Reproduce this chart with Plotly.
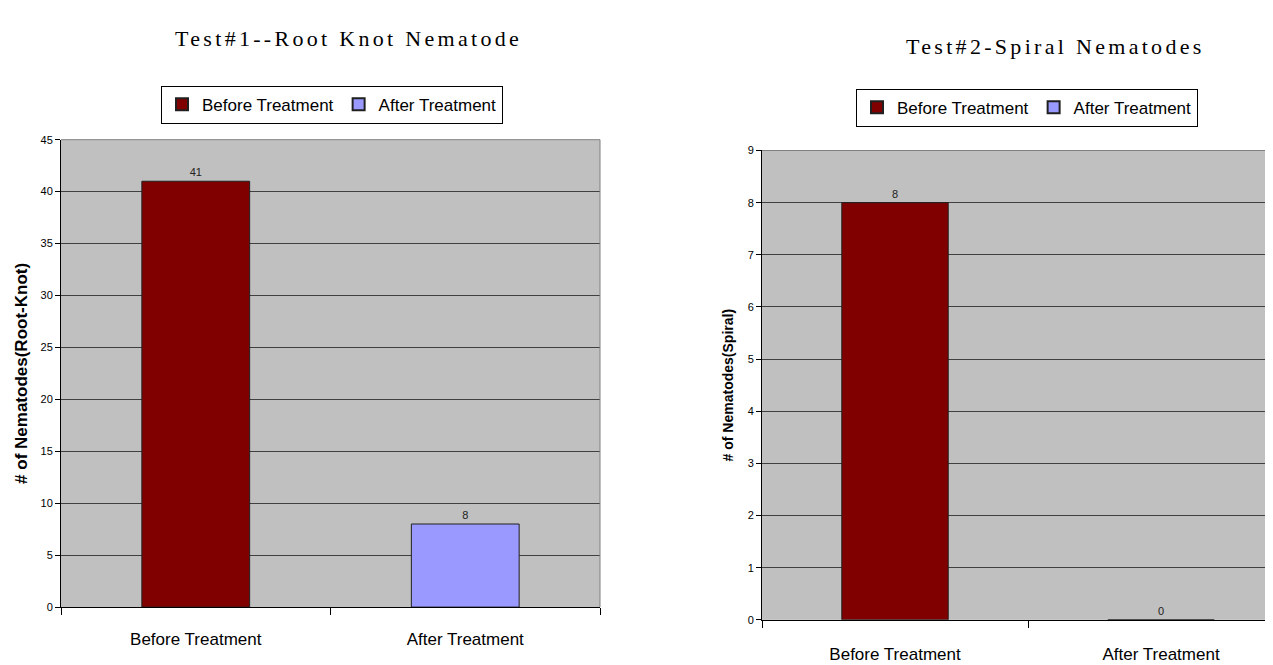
import plotly.graph_objects as go

# ---- data ----
categories = ["Before Treatment", "After Treatment"]
root_knot_before = [41]
root_knot_after = [8]
spiral_before = [8]
spiral_after = [0]
root_knot_ticks = [0, 5, 10, 15, 20, 25, 30, 35, 40, 45]
spiral_ticks = [0, 1, 2, 3, 4, 5, 6, 7, 8, 9]
titles = ["Test#1--Root Knot Nematode", "Test#2-Spiral Nematodes"]
y_titles = ["# of Nematodes(Root-Knot)", "# of Nematodes(Spiral)"]
series_names = ["Before Treatment", "After Treatment"]

W, H = 1273, 665
SANS = "Liberation Sans, Arial, sans-serif"
SERIF = "Liberation Serif, Times New Roman, serif"
C_BEFORE = "#800000"
C_AFTER = "#9999FF"

def px(x):
    return x / W

def py(y):
    return 1 - y / H

fig = go.Figure()

def bar(xcat, vals, name, color, xa, ya, leg):
    return go.Bar(x=xcat, y=vals, name=name, marker_color=color,
                  marker_line=dict(color="#202020", width=1),
                  width=0.4, texttemplate="%{y}", textposition="outside",
                  cliponaxis=False, textfont=dict(family=SANS, size=11, color="#222"),
                  xaxis=xa, yaxis=ya, legend=leg)

fig.add_trace(bar([categories[0]], root_knot_before, series_names[0], C_BEFORE, "x", "y", "legend"))
fig.add_trace(bar([categories[1]], root_knot_after, series_names[1], C_AFTER, "x", "y", "legend"))
fig.add_trace(bar([categories[0]], spiral_before, series_names[0], C_BEFORE, "x2", "y2", "legend2"))
fig.add_trace(bar([categories[1]], spiral_after, series_names[1], C_AFTER, "x2", "y2", "legend2"))

xcommon = dict(type="category", categoryorder="array", categoryarray=categories,
               tickson="boundaries", ticks="outside", ticklen=7, tickcolor="#000",
               showline=True, linecolor="#000", linewidth=1, showgrid=False,
               tickfont=dict(family=SANS, size=17, color="#000"),
               fixedrange=True)
ycommon = dict(ticks="outside", ticklen=5, tickcolor="#000", showline=True,
               linecolor="#000", linewidth=1, showgrid=True, gridcolor="#404040",
               gridwidth=1, zeroline=False,
               tickfont=dict(family=SANS, size=11, color="#000"), fixedrange=True)

legcommon = dict(orientation="h", xanchor="center", yanchor="top",
                 bgcolor="white", bordercolor="#000", borderwidth=1,
                 font=dict(family=SANS, size=17, color="#000"),
                 itemsizing="constant", traceorder="normal", itemwidth=30)

fig.update_layout(
    width=W, height=H,
    margin=dict(l=0, r=0, t=0, b=0),
    paper_bgcolor="white", plot_bgcolor="#C0C0C0",
    barmode="overlay",
    showlegend=True,
    xaxis=dict(domain=[px(53), px(592)], anchor="y", range=[-0.5, 1.5],
               ticklabelstandoff=16, **xcommon),
    yaxis=dict(domain=[py(604), py(128)], anchor="x", range=[0, 45],
               tickvals=root_knot_ticks,
               title=dict(text=y_titles[0], font=dict(family=SANS, size=17, color="#000", weight="bold"),
                          standoff=8),
               **ycommon),
    xaxis2=dict(domain=[px(754), 1.0], anchor="y2", range=[-0.5, 1.451],
                ticklabelstandoff=19, **xcommon),
    yaxis2=dict(domain=[py(617), py(139)], anchor="x2", range=[0, 9],
                tickvals=spiral_ticks,
                title=dict(text=y_titles[1], font=dict(family=SANS, size=14, color="#000", weight="bold"),
                           standoff=10),
                **ycommon),
    legend=dict(x=px(324), y=py(73), **legcommon),
    legend2=dict(x=px(1019), y=py(76), **legcommon),
    annotations=[
        dict(text=titles[0], x=px(340), y=py(25), xref="paper", yref="paper",
             xanchor="center", yanchor="middle", showarrow=False,
             font=dict(family=SERIF, size=22, color="#000")),
        dict(text=titles[1], x=px(1047), y=py(33), xref="paper", yref="paper",
             xanchor="center", yanchor="middle", showarrow=False,
             font=dict(family=SERIF, size=22, color="#000")),
    ],
    shapes=[
        dict(type="line", xref="x domain", yref="y domain", x0=0, x1=1, y0=1, y1=1,
             line=dict(color="#808080", width=1)),
        dict(type="line", xref="x domain", yref="y domain", x0=1, x1=1, y0=0, y1=1,
             line=dict(color="#808080", width=1)),
        dict(type="line", xref="x2 domain", yref="y2 domain", x0=0, x1=1, y0=1, y1=1,
             line=dict(color="#808080", width=1)),
    ],
)

post = """
var gd = document.getElementById('{plot_id}');
gd.querySelectorAll('.annotation-text').forEach(function(t){
  var s = t.textContent;
  if (s.indexOf('Test#') === 0) { t.style.letterSpacing = '3.3px'; }
});
"""

fig.write_html("out.html", config={"displayModeBar": False}, post_script=post)
